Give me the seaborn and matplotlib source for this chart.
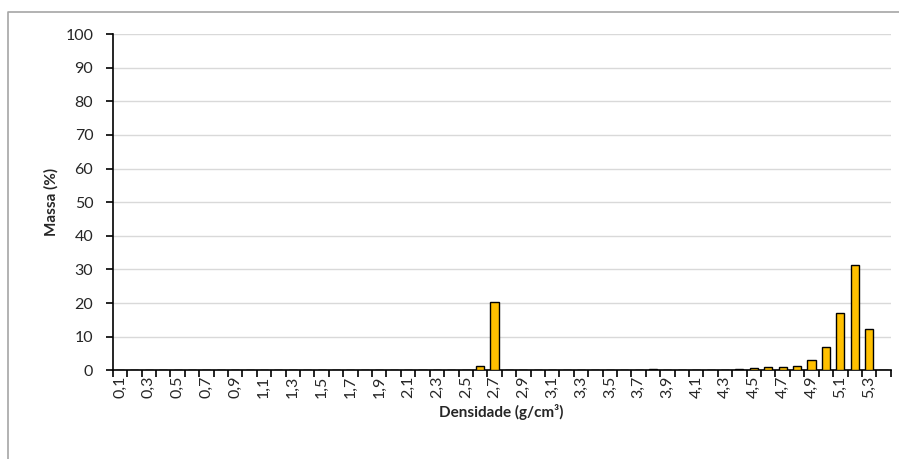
import pandas as pd
import matplotlib.pyplot as plt
import seaborn as sns
from matplotlib.lines import Line2D
from matplotlib.ticker import FixedLocator

densidade = ['0,1', '0,2', '0,3', '0,4', '0,5', '0,6', '0,7', '0,8', '0,9', '1,0',
             '1,1', '1,2', '1,3', '1,4', '1,5', '1,6', '1,7', '1,8', '1,9', '2,0',
             '2,1', '2,2', '2,3', '2,4', '2,5', '2,6', '2,7', '2,8', '2,9', '3,0',
             '3,1', '3,2', '3,3', '3,4', '3,5', '3,6', '3,7', '3,8', '3,9', '4,0',
             '4,1', '4,2', '4,3', '4,4', '4,5', '4,6', '4,7', '4,8', '4,9', '5,0',
             '5,1', '5,2', '5,3', '5,4']
massa = [0, 0, 0, 0, 0, 0, 0, 0, 0, 0,
         0, 0, 0, 0, 0, 0, 0, 0, 0, 0,
         0, 0, 0, 0, 0, 1.2, 20.4, 0, 0, 0,
         0, 0, 0, 0.05, 0, 0, 0.1, 0.5, 0, 0.05,
         0.15, 0.05, 0.2, 0.25, 0.6, 1.1, 0.9, 1.4, 3.1, 6.8,
         17.0, 31.3, 12.2, 0]

df = pd.DataFrame({'Densidade': densidade, 'Massa': massa})

sns.set_style('white')
plt.rcParams['font.family'] = ['Lato', 'DejaVu Sans']

fig = plt.figure(figsize=(8.99, 4.59), dpi=100)
ax = fig.add_axes([0.1254, 0.1932, 0.8654, 0.7327])

sns.barplot(data=df, x='Densidade', y='Massa', color='#FFC000', saturation=1,
            edgecolor='black', linewidth=1, width=0.56, ax=ax, zorder=3)

n = len(densidade)
ax.set_xlim(-0.5, n - 0.5)
ax.set_ylim(0, 100)
ax.set_yticks(range(0, 101, 10))
ax.grid(axis='y', color='#d9d9d9', linewidth=1, zorder=0)
ax.set_axisbelow(True)

# ticks at category edges, labels at every other category centre
ax.xaxis.set_major_locator(FixedLocator([i - 0.5 for i in range(n + 1)]))
ax.xaxis.set_major_formatter(plt.NullFormatter())
ax.xaxis.set_minor_locator(FixedLocator(list(range(0, n, 2))))
ax.set_xticklabels(densidade[::2], minor=True, rotation=90, fontsize=11.5)
ax.tick_params(axis='x', which='major', bottom=True, direction='out', length=5, width=1.2, color='black')
ax.tick_params(axis='x', which='minor', bottom=True, length=0, pad=4)
ax.tick_params(axis='y', left=True, direction='out', length=5, width=1.2, color='black', labelsize=11.5, pad=9)

for s in ['top', 'right']:
    ax.spines[s].set_visible(False)
for s in ['left', 'bottom']:
    ax.spines[s].set_color('black')
    ax.spines[s].set_linewidth(1.2)

ax.set_xlabel('Densidade (g/cm³)', fontweight='bold', fontsize=11, labelpad=4)
ax.set_ylabel('Massa (%)', fontweight='bold', fontsize=11, labelpad=5)

# outer chart border (only top and left visible)
fig.add_artist(Line2D([8 / 899, 8 / 899, 1], [0, 1 - 12 / 459, 1 - 12 / 459],
                      transform=fig.transFigure, color='#a6a6a6', linewidth=1.2))

plt.savefig('out.png', dpi=100)
